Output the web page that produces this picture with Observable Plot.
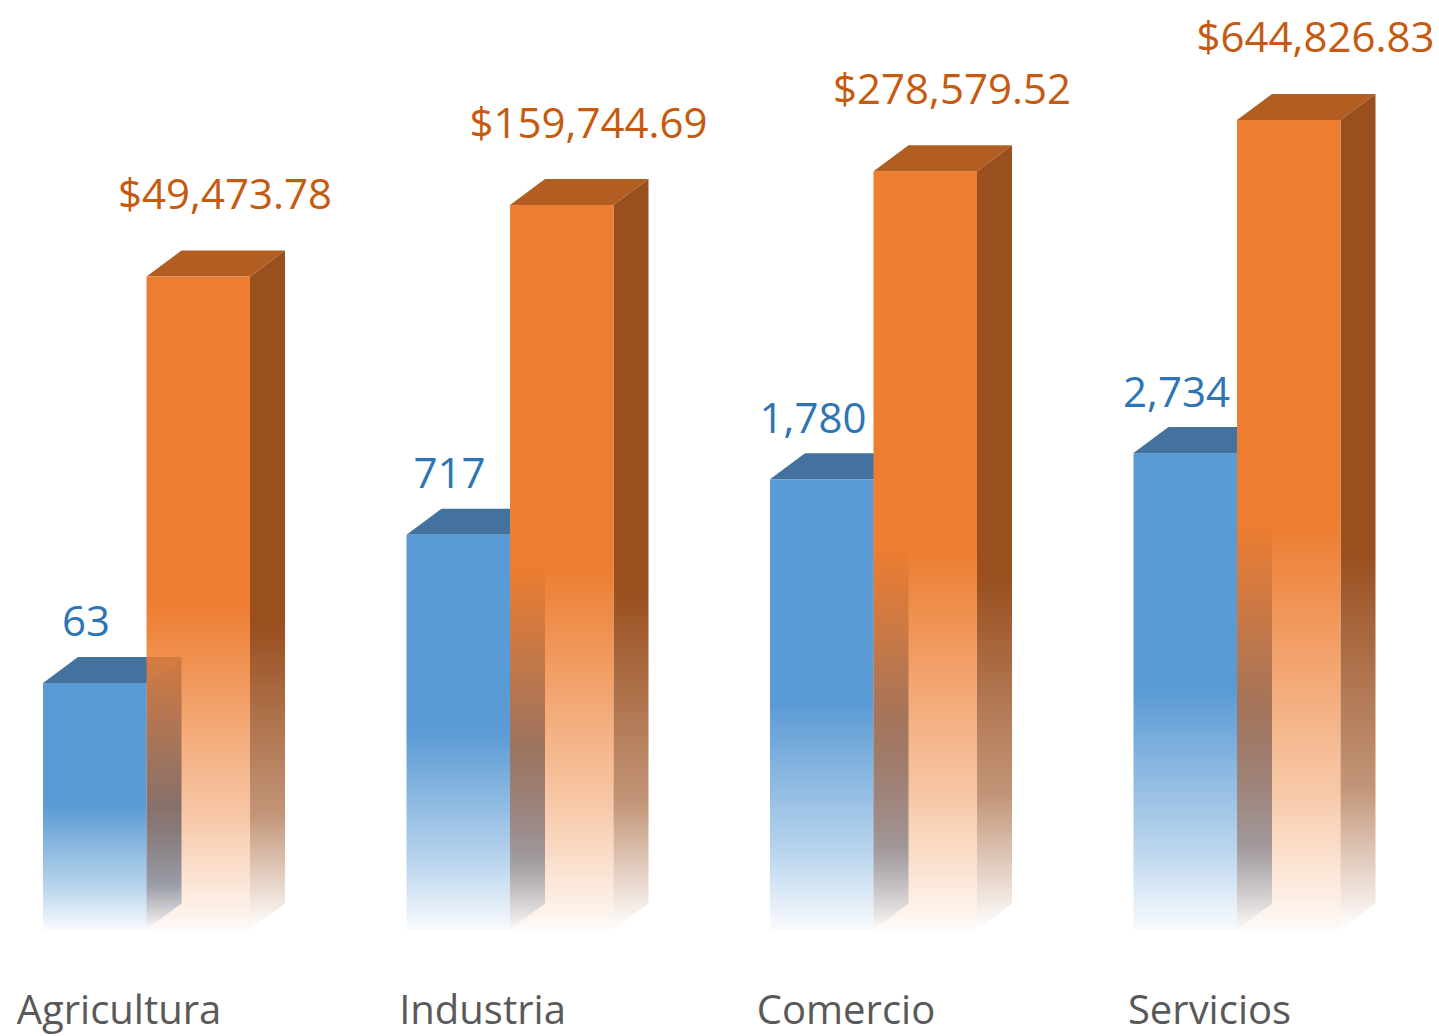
<!DOCTYPE html>
<html>
<head>
<meta charset="utf-8">
<script src="https://cdn.jsdelivr.net/npm/d3@7"></script>
<script src="https://cdn.jsdelivr.net/npm/@observablehq/plot@0.6"></script>
<style>
  html, body { margin: 0; padding: 0; background: #ffffff; }
  #chart svg { display: block; background: #ffffff; }
</style>
</head>
<body>
<div id="chart"></div>
<script>
// ---- data ----
const categories = ["Agricultura", "Industria", "Comercio", "Servicios"];
const empresas = [63, 717, 1780, 2734];
const montos = [49473.78, 159744.69, 278579.52, 644826.83];

const rows = categories.map((c, i) => ({categoria: c, empresas: empresas[i], monto: montos[i]}));

// ---- style ----
const blueFront = "#5B9BD5", blueTop = "#44729E", blueSide = "#33669A";
const orangeFront = "#ED7D31", orangeTop = "#B25E22", orangeSide = "#9A4F1F";
const depthX = 35, depthY = 26;
const baseValue = 1;
const floorInset = 6;
const font = "Open Sans";

function defs() {
  const d = d3.create("svg:defs");
  const grad = (id, color, stops) => {
    const g = d.append("linearGradient").attr("id", id)
      .attr("x1", 0).attr("y1", 0).attr("x2", 0).attr("y2", 1);
    for (const [o, a] of stops) g.append("stop").attr("offset", o).attr("stop-color", color).attr("stop-opacity", a);
  };
  const front = [[0, 1], [0.5, 1], [0.83, 0.42], [1, 0.04]];
  const side = [[0, 1], [0.55, 1], [0.83, 0.6], [1, 0]];
  grad("gBlueFront", blueFront, front);
  grad("gOrangeFront", orangeFront, front);
  grad("gBlueSide", blueSide, side);
  grad("gOrangeSide", orangeSide, side);
  return d.node();
}

function faces(field, half, kind, fill) {
  return (index, scales) => {
    const {x, y} = scales;
    const bw = typeof x.bandwidth === "function" ? x.bandwidth() : x.bandwidth;
    const g = d3.create("svg:g");
    for (const r of rows) {
      const x0 = x(r.categoria) + half * bw / 2;
      const x1 = x0 + bw / 2;
      const yt = y(r[field]);
      const yb = y(baseValue) - floorInset;
      const pts = kind === "top"
        ? [[x0, yt], [x1, yt], [x1 + depthX, yt - depthY], [x0 + depthX, yt - depthY]]
        : [[x1, yt], [x1 + depthX, yt - depthY], [x1 + depthX, yb - depthY], [x1, yb]];
      g.append("path").attr("d", "M" + pts.map(p => p.join(",")).join("L") + "Z").attr("fill", fill);
    }
    return g.node();
  };
}

const bw = 207;
const fmtN = d3.format(",");
const fmtM = d3.format("$,.2f");

const chart = Plot.plot({
  width: 1439,
  height: 1036,
  marginTop: 0, marginRight: 0, marginBottom: 0, marginLeft: 0,
  x: {type: "band", domain: categories, range: [43, 1340.5], paddingInner: 0.4305, paddingOuter: 0, align: 0.5, round: false, axis: null},
  y: {type: "log", domain: [1, 1e6], range: [935.6, 93.2], axis: null},
  marks: [
    defs,
    faces("empresas", 0, "top", blueTop),
    faces("empresas", 0, "side", "url(#gBlueSide)"),
    Plot.barY(rows, {x: "categoria", y1: () => baseValue, y2: "empresas", insetRight: bw / 2, insetBottom: floorInset, fill: "url(#gBlueFront)"}),
    faces("monto", 1, "top", orangeTop),
    faces("monto", 1, "side", "url(#gOrangeSide)"),
    Plot.barY(rows, {x: "categoria", y1: () => baseValue, y2: "monto", insetLeft: bw / 2, insetBottom: floorInset, fill: "url(#gOrangeFront)"}),
    Plot.text(rows, {x: "categoria", y: "empresas", text: d => fmtN(d.empresas), dx: -61, dy: -47, lineAnchor: "bottom", fill: "#2E75B6", fontSize: 42, fontFamily: font}),
    Plot.text(rows, {x: "categoria", y: "monto", text: d => fmtM(d.monto), dx: 78, dy: -68, lineAnchor: "bottom", fill: "#C55A11", fontSize: 42, fontFamily: font}),
    Plot.text(categories, {x: d => d, frameAnchor: "bottom", lineAnchor: "bottom", dy: -13, dx: -28, text: d => d, fill: "#595959", fontSize: 40, fontFamily: font})
  ]
});
document.getElementById("chart").appendChild(chart);
</script>
</body>
</html>
